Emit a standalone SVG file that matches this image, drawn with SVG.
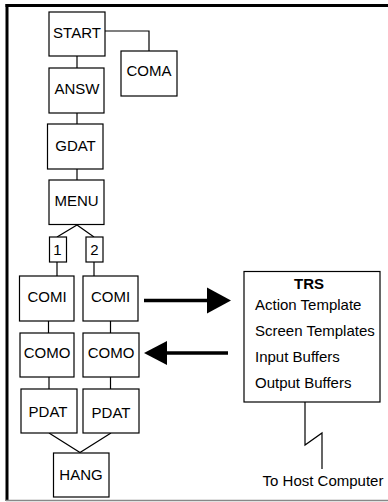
<svg xmlns="http://www.w3.org/2000/svg" width="388" height="502" viewBox="0 0 388 502">
<style>
.b{fill:#fff;stroke:#000;stroke-width:1.2}
.t{font-family:"Liberation Sans",Arial,sans-serif;font-size:15px;fill:#000;text-anchor:middle}
.l{font-family:"Liberation Sans",Arial,sans-serif;font-size:15px;fill:#000}
.c{fill:none;stroke:#000;stroke-width:1.2}
.a{fill:none;stroke:#000;stroke-width:3.5}
</style>
<rect width="388" height="502" fill="#fff"/>
<g id="frame">
<line x1="5.5" y1="5.5" x2="388" y2="5.5" stroke="#000" stroke-width="3"/>
<line x1="7" y1="4" x2="7" y2="501" stroke="#000" stroke-width="3"/>
<line x1="6" y1="500.5" x2="388" y2="500.5" stroke="#888" stroke-width="1.5"/>
</g>
<g id="connectors">
<polyline class="c" points="105,31 149,31 149,51"/>
<line class="c" x1="77" y1="56" x2="77" y2="68"/>
<line class="c" x1="77" y1="113" x2="77" y2="124"/>
<line class="c" x1="77" y1="169" x2="77" y2="180"/>
<polyline class="c" points="57,237 77,225 94,237"/>
<line class="c" x1="57" y1="262" x2="57" y2="276"/>
<line class="c" x1="94" y1="262" x2="94" y2="276"/>
<line class="c" x1="48.5" y1="321" x2="48.5" y2="333"/>
<line class="c" x1="110.5" y1="321" x2="110.5" y2="333"/>
<line class="c" x1="49" y1="377" x2="49" y2="389"/>
<line class="c" x1="110.5" y1="377" x2="110.5" y2="389"/>
<polyline class="c" points="49,433 80,452.5 111,433"/>
<line class="a" x1="144" y1="300.5" x2="209" y2="300.5"/>
<polygon points="207,287.5 231,300.5 207,313.5" fill="#000"/>
<line class="a" x1="165" y1="353" x2="228" y2="353"/>
<polygon points="144,353 167,341 167,365" fill="#000"/>
<polyline class="c" points="305,402 305,445 322,433 322,469" stroke-width="1.5"/>
</g>
<g id="START"><rect class="b" x="49" y="12" width="56" height="44"/><text class="t" x="77" y="37.5">START</text></g>
<g id="COMA"><rect class="b" x="121" y="51" width="56" height="45"/><text class="t" x="149" y="76">COMA</text></g>
<g id="ANSW"><rect class="b" x="49" y="68" width="55" height="45"/><text class="t" x="77" y="94">ANSW</text></g>
<g id="GDAT"><rect class="b" x="47.5" y="124" width="55.5" height="45"/><text class="t" x="75.5" y="151">GDAT</text></g>
<g id="MENU"><rect class="b" x="49" y="180" width="55" height="44.5"/><text class="t" x="76.5" y="205.5">MENU</text></g>
<g id="opt1"><rect class="b" x="49.5" y="237" width="17" height="25"/><text class="t" x="57.5" y="254.5">1</text></g>
<g id="opt2"><rect class="b" x="86" y="237" width="17" height="25"/><text class="t" x="94.5" y="254.5">2</text></g>
<g id="COMI1"><rect class="b" x="19.5" y="276" width="54.5" height="45"/><text class="t" x="47" y="301.5">COMI</text></g>
<g id="COMI2"><rect class="b" x="83" y="276" width="55" height="45"/><text class="t" x="110.5" y="302">COMI</text></g>
<g id="COMO1"><rect class="b" x="20" y="333" width="54" height="44"/><text class="t" x="47" y="358">COMO</text></g>
<g id="COMO2"><rect class="b" x="83" y="333" width="56" height="44"/><text class="t" x="111" y="358">COMO</text></g>
<g id="PDAT1"><rect class="b" x="21" y="389" width="56" height="44"/><text class="t" x="48" y="417">PDAT</text></g>
<g id="PDAT2"><rect class="b" x="83" y="389" width="56" height="44"/><text class="t" x="111" y="418">PDAT</text></g>
<g id="HANG"><rect class="b" x="53.5" y="453" width="55.5" height="44"/><text class="t" x="81" y="480">HANG</text></g>
<g id="TRS">
<rect class="b" x="244" y="271.5" width="136" height="130.5"/>
<text class="t" x="309" y="289" font-weight="bold">TRS</text>
<text class="l" x="255" y="310">Action Template</text>
<text class="l" x="255" y="336">Screen Templates</text>
<text class="l" x="255" y="362">Input Buffers</text>
<text class="l" x="255" y="388">Output Buffers</text>
</g>
<g id="host"><text class="t" x="323" y="486">To Host Computer</text></g>
</svg>
